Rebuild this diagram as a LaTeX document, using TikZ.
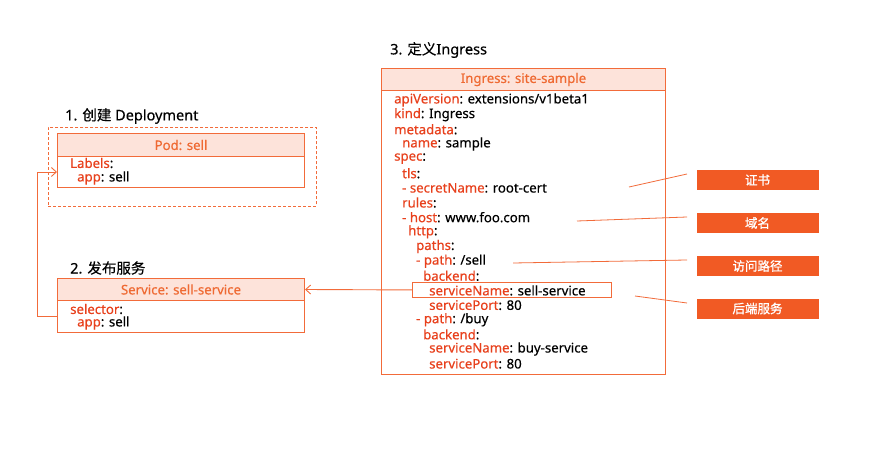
\documentclass[tikz,border=0pt]{standalone}
\usepackage{fontspec}
\setmainfont{Noto Sans}[FakeBold=0.4]
\newfontfamily\cjk{Noto Sans CJK SC}[FakeBold=0.4]
\newfontfamily\tagfont{Noto Sans CJK SC}[FakeBold=1]
\usetikzlibrary{arrows.meta}
\definecolor{bord}{HTML}{F26B3A}
\definecolor{hdr}{HTML}{FDE3DA}
\definecolor{hdrtxt}{HTML}{EF6A33}
\definecolor{keyc}{HTML}{E8401C}
\definecolor{tagc}{HTML}{F15A24}
\newcommand{\K}[1]{\textcolor{keyc}{#1}}
\begin{document}
\begin{tikzpicture}[x=1pt,y=-1pt,
  hdrbox/.style={draw=bord, line width=1pt, fill=hdr, text=hdrtxt, inner sep=0, anchor=north west, font=\fontsize{13.2}{15}\selectfont},
  bodybox/.style={draw=bord, line width=1pt, fill=white, inner sep=0, anchor=north west},
  yml/.style={anchor=west, inner sep=0, font=\fontsize{13.2}{14}\selectfont},
  ttl/.style={anchor=west, inner sep=0, font=\fontsize{14.5}{16}\selectfont},
  tagbox/.style={fill=tagc, text=white, inner sep=0, minimum width=122, minimum height=20, font=\tagfont\fontsize{12.5}{14}\selectfont},
  lead/.style={draw=bord, line width=0.8pt},
  conn/.style={draw=bord, line width=0.9pt, -{Straight Barb[length=5pt,width=9pt]}}]
\useasboundingbox (0,0) rectangle (875,454);
% ---------- Deployment ----------
\node[ttl] (t1) at (65,116) {1. {\cjk 创建} Deployment};
\node[draw=bord, line width=0.9pt, dash pattern=on 3pt off 2pt, inner sep=0, anchor=north west, minimum width=268, minimum height=79] (dep) at (48,127) {};
\node[bodybox, minimum width=247, minimum height=31] (podb) at (57,156) {};
\node[hdrbox, minimum width=247, minimum height=23] (podh) at (57,133) {Pod: sell};
\node[yml] (pl1) at (70,163) {\K{Labels}:};
\node[yml] (pl2) at (77,178) {\K{app}: sell};
% ---------- Service ----------
\node[ttl] (t2) at (70,268) {2. {\cjk 发布服务}};
\node[bodybox, minimum width=247, minimum height=32] (svcb) at (57,300) {};
\node[hdrbox, minimum width=247, minimum height=22] (svch) at (57,278) {Service: sell-service};
\node[yml] (sl1) at (70,309) {\K{selector}:};
\node[yml] (sl2) at (77,323) {\K{app}: sell};
% ---------- Ingress ----------
\node[ttl] (t3) at (390,50) {3. {\cjk 定义}Ingress};
\node[bodybox, minimum width=284, minimum height=284] (ingb) at (381,90) {};
\node[hdrbox, minimum width=284, minimum height=22] (ingh) at (381,68) {Ingress: site-sample};
\node[draw=bord, line width=0.9pt, inner sep=0, anchor=north west, minimum width=199, minimum height=15] (hl) at (412,282) {};
\node[yml] (l1) at (394,100) {\K{apiVersion}: extensions/v1beta1};
\node[yml] (l2) at (394,114.65) {\K{kind}: Ingress};
\node[yml] (l3) at (394,129.3) {\K{metadata}:};
\node[yml] (l4) at (402,143.95) {\K{name}: sample};
\node[yml] (l5) at (394,158.6) {\K{spec}:};
\node[yml] (l6) at (402,173.25) {\K{tls}:};
\node[yml] (l7) at (402,187.9) {\K{- secretName}: root-cert};
\node[yml] (l8) at (402,202.55) {\K{rules}:};
\node[yml] (l9) at (402,217.2) {\K{- host}: www.foo.com};
\node[yml] (l10) at (408,231.85) {\K{http}:};
\node[yml] (l11) at (416,246.5) {\K{paths}:};
\node[yml] (l12) at (416,261.15) {\K{- path}: /sell};
\node[yml] (l13) at (423,275.8) {\K{backend}:};
\node[yml] (l14) at (429,290.45) {\K{serviceName}: sell-service};
\node[yml] (l15) at (429,305.1) {\K{servicePort}: 80};
\node[yml] (l16) at (416,319.75) {\K{- path}: /buy};
\node[yml] (l17) at (423,334.4) {\K{backend}:};
\node[yml] (l18) at (429,349.05) {\K{serviceName}: buy-service};
\node[yml] (l19) at (429,363.7) {\K{servicePort}: 80};
% ---------- tags ----------
\node[tagbox] (tg1) at (757.5,180) {证书};
\node[tagbox] (tg2) at (757.5,223) {域名};
\node[tagbox] (tg3) at (757.5,266) {访问路径};
\node[tagbox] (tg4) at (757.5,308.5) {后端服务};
\coordinate (a1) at (629,187);
\coordinate (a2) at (577,221);
\coordinate (a3) at (513,263);
\coordinate (a4) at (635,296);
\coordinate (b1) at (687,174);
\coordinate (b2) at (687,217);
\coordinate (b3) at (687,260);
\coordinate (b4) at (687,303);
\draw[lead] (a1) -- (b1);
\draw[lead] (a2) -- (b2);
\draw[lead] (a3) -- (b3);
\draw[lead] (a4) -- (b4);
% ---------- connectors ----------
\draw[conn] (hl.west) -- (svch.east);
\draw[conn] (svcb.west) -- ++(-20,0) |- (podb.west);
\end{tikzpicture}
\end{document}
